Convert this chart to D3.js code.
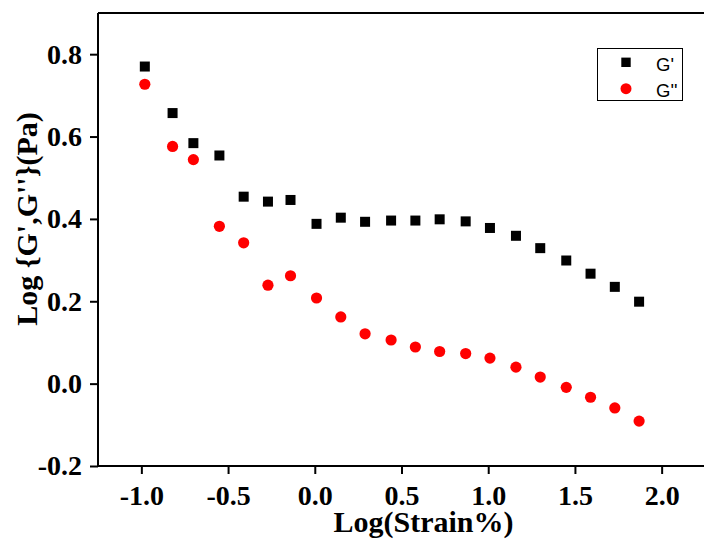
<!DOCTYPE html>
<html>
<head>
<meta charset="utf-8">
<script src="https://cdn.jsdelivr.net/npm/d3@7"></script>
<style>
  html, body { margin: 0; padding: 0; background: #fff; }
  svg { display: block; }
</style>
</head>
<body>
<script>
// ---- data ----
const logStrain = [-0.98, -0.82, -0.70, -0.55, -0.41, -0.27, -0.14, 0.01, 0.15, 0.29, 0.44, 0.58, 0.72, 0.87, 1.01, 1.16, 1.30, 1.45, 1.59, 1.73, 1.87];
const gPrime = [0.770, 0.657, 0.584, 0.554, 0.454, 0.442, 0.446, 0.388, 0.403, 0.393, 0.396, 0.396, 0.399, 0.394, 0.378, 0.359, 0.329, 0.299, 0.267, 0.235, 0.199];
const gDoublePrime = [0.727, 0.576, 0.544, 0.382, 0.342, 0.239, 0.262, 0.208, 0.162, 0.121, 0.106, 0.089, 0.078, 0.073, 0.062, 0.040, 0.016, -0.009, -0.033, -0.059, -0.091];
const xMajorTicks = [-1.0, -0.5, 0.0, 0.5, 1.0, 1.5, 2.0];
const xMinorTicks = [-1.25, -0.75, -0.25, 0.25, 0.75, 1.25, 1.75, 2.25];
const yMajorTicks = [-0.2, 0.0, 0.2, 0.4, 0.6, 0.8];
const yMinorTicks = [-0.1, 0.1, 0.3, 0.5, 0.7, 0.9];
const seriesNames = ["G'", "G''"];
const xTitle = "Log(Strain%)";
const yTitle = "Log {G',G''}(Pa)";

// ---- layout ----
const W = 704, H = 543;
const m = { left: 98, right: 705, top: 13, bottom: 466 };

const svg = d3.select("body").append("svg").attr("width", W).attr("height", H);

const x = d3.scaleLinear().domain([-1.25, 2.25]).range([m.left, m.right]);
const y = d3.scaleLinear().domain([-0.2, 0.9]).range([m.bottom, m.top]);

const serif = "'Liberation Serif', 'Times New Roman', serif";

// frame: top and right border
svg.append("line").attr("x1", m.left).attr("x2", m.right).attr("y1", m.top).attr("y2", m.top)
  .attr("stroke", "#000").attr("stroke-width", 2);
svg.append("line").attr("x1", m.right).attr("x2", m.right).attr("y1", m.top).attr("y2", m.bottom)
  .attr("stroke", "#000").attr("stroke-width", 2);

// x axis
const gx = svg.append("g").attr("transform", `translate(0,${m.bottom})`);
gx.call(d3.axisBottom(x).tickValues(xMinorTicks).tickSize(5).tickFormat(""));
gx.call(d3.axisBottom(x).tickValues(xMajorTicks).tickSize(8).tickPadding(11)
  .tickFormat(d3.format(".1f")));
gx.selectAll(".domain").attr("d", `M${m.left},0H${m.right}`).attr("stroke-width", 2);
gx.selectAll("line").attr("stroke-width", 2);
gx.selectAll("text").attr("font-family", serif).attr("font-weight", "bold")
  .attr("font-size", 28).attr("fill", "#000").text(d => d3.format(".1f")(d).replace("−", "-"));

// y axis
const gy = svg.append("g").attr("transform", `translate(${m.left},0)`);
gy.call(d3.axisLeft(y).tickValues(yMinorTicks).tickSize(5).tickFormat(""));
gy.call(d3.axisLeft(y).tickValues(yMajorTicks).tickSize(8).tickPadding(8)
  .tickFormat(d3.format(".1f")));
gy.selectAll(".domain").attr("d", `M0,${m.bottom}V${m.top}`).attr("stroke-width", 2);
gy.selectAll("line").attr("stroke-width", 2);
gy.selectAll("text").attr("font-family", serif).attr("font-weight", "bold")
  .attr("font-size", 28).attr("fill", "#000").text(d => d3.format(".1f")(d).replace("−", "-"));

// axis titles
svg.append("text").attr("x", 423.5).attr("y", 532).attr("text-anchor", "middle")
  .attr("font-family", serif).attr("font-weight", "bold").attr("font-size", 30)
  .text(xTitle);
svg.append("text").attr("transform", `translate(37,219) rotate(-90)`).attr("text-anchor", "middle")
  .attr("font-family", serif).attr("font-weight", "bold").attr("font-size", 30)
  .text(yTitle);

// data
const sq = 10;
svg.append("g").selectAll("rect").data(logStrain.map((v, i) => [v, gPrime[i]])).join("rect")
  .attr("x", d => x(d[0]) - sq / 2).attr("y", d => y(d[1]) - sq / 2)
  .attr("width", sq).attr("height", sq).attr("fill", "#000");
svg.append("g").selectAll("circle").data(logStrain.map((v, i) => [v, gDoublePrime[i]])).join("circle")
  .attr("cx", d => x(d[0])).attr("cy", d => y(d[1])).attr("r", 5.6).attr("fill", "#ff0000");

// legend
const lg = svg.append("g");
lg.append("rect").attr("x", 597.5).attr("y", 48.5).attr("width", 85).attr("height", 52)
  .attr("fill", "#fff").attr("stroke", "#000").attr("stroke-width", 1);
lg.append("rect").attr("x", 626 - 4.7).attr("y", 62.3 - 4.7).attr("width", 9.4).attr("height", 9.4).attr("fill", "#000");
lg.append("circle").attr("cx", 626).attr("cy", 88.7).attr("r", 5.5).attr("fill", "#ff0000");
const sans = "'Liberation Sans', Arial, sans-serif";
lg.append("text").attr("x", 656).attr("y", 70.5).attr("font-family", sans).attr("font-size", 18.5).text(seriesNames[0]);
lg.append("text").attr("x", 656).attr("y", 96.5).attr("font-family", sans).attr("font-size", 18.5).text(seriesNames[1]);
</script>
</body>
</html>
